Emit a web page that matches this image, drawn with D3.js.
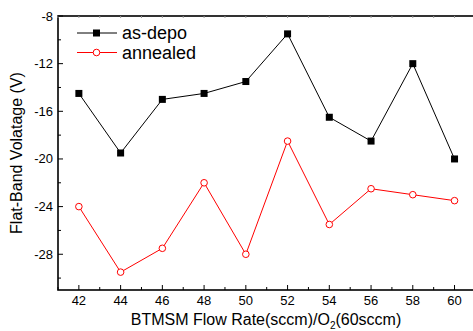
<!DOCTYPE html>
<html>
<head>
<meta charset="utf-8">
<script src="https://cdn.jsdelivr.net/npm/d3@7"></script>
<style>
  body { margin: 0; background: #fff; }
  svg { display: block; font-family: "Liberation Sans", Arial, sans-serif; }
</style>
</head>
<body>
<svg id="chart" width="473" height="331"></svg>
<script>
"use strict";

// values
const flowRates = [42, 44, 46, 48, 50, 52, 54, 56, 58, 60];
const asDepo = [-14.5, -19.5, -15, -14.5, -13.5, -9.5, -16.5, -18.5, -12, -20];
const annealed = [-24, -29.5, -27.5, -22, -28, -18.5, -25.5, -22.5, -23, -23.5];
const yTicks = [-8, -12, -16, -20, -24, -28];
const seriesNames = ['as-depo', 'annealed'];

(function () {
  let svg = d3.select('#chart');

  let left = 58, top = 16, bottom = 290, right = 475.4;

  let x = d3.scaleLinear().domain([41, 61]).range([left, right]);
  let y = d3.scaleLinear().domain([-31, -8]).range([bottom, top]);

  // frame
  svg.append('rect')
    .attr('x', left).attr('y', top)
    .attr('width', right - left).attr('height', bottom - top)
    .attr('fill', 'none').attr('stroke', '#000').attr('stroke-width', 1.6);

  // bottom ticks (inside), labels
  let minorX = d3.range(41, 62, 1);
  svg.append('g').selectAll('line').data(minorX).enter().append('line')
    .attr('x1', d => x(d)).attr('x2', d => x(d))
    .attr('y1', bottom)
    .attr('y2', d => bottom - (d % 2 === 0 ? 5 : 3))
    .attr('stroke', '#000').attr('stroke-width', 1);

  // top ticks, faint
  svg.append('g').selectAll('line').data(minorX).enter().append('line')
    .attr('x1', d => x(d)).attr('x2', d => x(d))
    .attr('y1', top).attr('y2', top + 2)
    .attr('stroke', '#999').attr('stroke-width', 1);

  svg.append('g').selectAll('text').data(flowRates).enter().append('text')
    .attr('x', d => x(d)).attr('y', bottom + 15)
    .attr('text-anchor', 'middle')
    .attr('font-size', 13)
    .text(d => d);

  // left ticks (inside)
  let minorY = d3.range(-30, -7, 2);
  svg.append('g').selectAll('line').data(minorY).enter().append('line')
    .attr('x1', left)
    .attr('x2', d => left + (d % 4 === 0 ? 5 : 3))
    .attr('y1', d => y(d)).attr('y2', d => y(d))
    .attr('stroke', '#000').attr('stroke-width', 1);

  svg.append('g').selectAll('text').data(yTicks).enter().append('text')
    .attr('x', left - 5).attr('y', d => y(d) + 4.5)
    .attr('text-anchor', 'end')
    .attr('font-size', 13)
    .text(d => d);

  // axis titles
  let xTitle = svg.append('text')
    .attr('x', 266).attr('y', 325)
    .attr('text-anchor', 'middle')
    .attr('font-size', 16);
  xTitle.append('tspan').text('BTMSM Flow Rate(sccm)/O');
  xTitle.append('tspan').attr('font-size', 10).attr('dy', 4).text('2');
  xTitle.append('tspan').attr('dy', -4).text('(60sccm)');

  svg.append('text')
    .attr('transform', 'translate(22,' + ((top + bottom) / 2) + ') rotate(-90)')
    .attr('text-anchor', 'middle')
    .attr('font-size', 16)
    .text('Flat-Band Volatage (V)');

  // series
  let line = d3.line()
    .x((d, i) => x(flowRates[i]))
    .y(d => y(d));

  svg.append('path').datum(asDepo)
    .attr('d', line)
    .attr('fill', 'none').attr('stroke', '#000').attr('stroke-width', 1);

  svg.append('g').selectAll('rect').data(asDepo).enter().append('rect')
    .attr('x', (d, i) => x(flowRates[i]) - 3.5)
    .attr('y', d => y(d) - 3.5)
    .attr('width', 7).attr('height', 7)
    .attr('fill', '#000');

  svg.append('path').datum(annealed)
    .attr('d', line)
    .attr('fill', 'none').attr('stroke', '#f00').attr('stroke-width', 1);

  svg.append('g').selectAll('circle').data(annealed).enter().append('circle')
    .attr('cx', (d, i) => x(flowRates[i]))
    .attr('cy', d => y(d))
    .attr('r', 3.3)
    .attr('fill', '#fff').attr('stroke', '#f00').attr('stroke-width', 1);

  // legend
  let legend = svg.append('g');
  let rows = [33, 52.5];

  legend.append('line')
    .attr('x1', 77).attr('x2', 117).attr('y1', rows[0]).attr('y2', rows[0])
    .attr('stroke', '#000');
  legend.append('rect')
    .attr('x', 93).attr('y', rows[0] - 3.5).attr('width', 7).attr('height', 7)
    .attr('fill', '#000');

  legend.append('line')
    .attr('x1', 77).attr('x2', 117).attr('y1', rows[1]).attr('y2', rows[1])
    .attr('stroke', '#f00');
  legend.append('circle')
    .attr('cx', 96.5).attr('cy', rows[1]).attr('r', 3.3)
    .attr('fill', '#fff').attr('stroke', '#f00');

  legend.selectAll('text').data(seriesNames).enter().append('text')
    .attr('x', 122).attr('y', (d, i) => rows[i] + 6)
    .attr('font-size', 18)
    .text(d => d);
})();
</script>
</body>
</html>
